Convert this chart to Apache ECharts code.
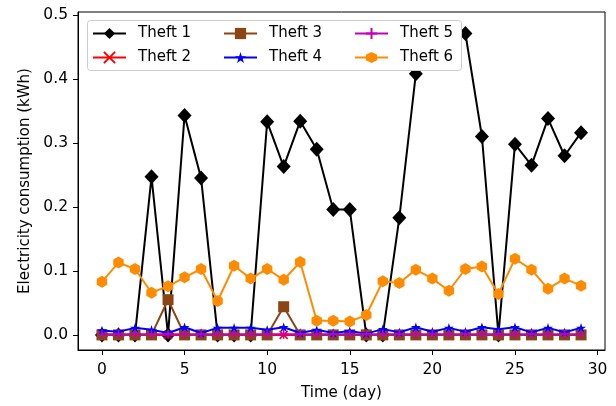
<!DOCTYPE html>
<html>
<head>
<meta charset="utf-8">
<script src="https://cdn.jsdelivr.net/npm/echarts@6/dist/echarts.min.js"></script>
<style>
html,body{margin:0;padding:0;background:#fff;}
#chart{width:616px;height:406px;}
</style>
</head>
<body>
<div id="chart"></div>
<script>
const days = [0,1,2,3,4,5,6,7,8,9,10,11,12,13,14,15,16,17,18,19,20,21,22,23,24,25,26,27,28,29];
const theft1 = [0,0,0,0.247,0,0.343,0.245,0,0,0,0.333,0.263,0.334,0.290,0.196,0.196,0,0,0.183,0.408,0.445,0.455,0.471,0.310,0,0.298,0.265,0.338,0.280,0.316];
const theft2 = [0,0,0,0,0,0,0,0,0,0,0,0,0,0,0,0,0,0,0,0,0,0,0,0,0,0,0,0,0,0];
const theft3 = [0,0,0,0,0.055,0,0,0,0,0,0,0.044,0,0,0,0,0,0,0,0,0,0,0,0,0,0,0,0,0,0];
const theft4 = [0.007,0.005,0.011,0.008,0.003,0.012,0.003,0.011,0.011,0.011,0.008,0.012,0.003,0.008,0.003,0.006,0.002,0.009,0.004,0.012,0.005,0.011,0.005,0.012,0.009,0.012,0.004,0.011,0.004,0.011];
const theft5 = [0.001,0.001,0.001,0.001,0.001,0.001,0.001,0.001,0.001,0.001,0.001,0.001,0.001,0.001,0.001,0.001,0.001,0.001,0.001,0.001,0.001,0.001,0.001,0.001,0.001,0.001,0.001,0.001,0.001,0.001];
const theft6 = [0.083,0.113,0.103,0.066,0.076,0.090,0.103,0.053,0.108,0.088,0.103,0.086,0.114,0.022,0.022,0.021,0.031,0.084,0.081,0.102,0.088,0.069,0.103,0.107,0.064,0.119,0.102,0.072,0.088,0.077];
const seriesNames = ['Theft 1','Theft 2','Theft 3','Theft 4','Theft 5','Theft 6'];
const xTicks = [0,5,10,15,20,25,30];
const yTicks = [0,0.1,0.2,0.3,0.4,0.5];

const FONT = 'DejaVu Sans';
const FS = 15;
const FST = 15.5;
const STAR = 'path://M50,0L61.2,34.5L97.6,34.5L68.2,55.9L79.4,90.5L50,69.1L20.6,90.5L31.8,55.9L2.4,34.5L38.8,34.5Z';
const HEX = 'path://M50,0L93.3,25L93.3,75L50,100L6.7,75L6.7,25Z';
const XMARK = 'path://M0,0L10,10M10,0L0,10';
const PLUS = 'path://M5,0L5,10M0,5L10,5';

function pairs(vals){ return days.map((d,i)=>[d, vals[i]]); }

const styles = [
  {data: theft1, color:'#000000', symbol:'diamond', size:[14,15]},
  {data: theft2, color:'#ff0000', symbol:XMARK, size:8, stroke:true},
  {data: theft3, color:'#8b4513', symbol:'rect', size:11},
  {data: theft4, color:'#0000ff', symbol:STAR, size:10},
  {data: theft5, color:'#bf00bf', symbol:PLUS, size:9, stroke:true},
  {data: theft6, color:'#ff8c00', symbol:HEX, size:12}
];

const series = styles.map((s,i)=>({
  name: seriesNames[i],
  type: 'line',
  data: pairs(s.data),
  symbol: s.symbol,
  symbolSize: s.size,
  symbolKeepAspect: true,
  showSymbol: true,
  showAllSymbol: true,
  z: 2 + i*0.01,
  animation: false,
  lineStyle: {color: s.color, width: 2},
  itemStyle: s.stroke ? {color: s.color, borderColor: s.color, borderWidth: 1.6} : {color: s.color, borderWidth: 0},
  emphasis: {disabled: true}
}));

function legendCol(names, left){
  return {
    data: names,
    orient: 'vertical',
    left: left,
    top: 26,
    padding: 0,
    itemWidth: 33,
    itemHeight: 14,
    itemGap: 9,
    z: 30,
    selectedMode: false,
    textStyle: {fontFamily: FONT, fontSize: FS, color: '#000', padding: [0,0,0,7]}
  };
}

const chart = echarts.init(document.getElementById('chart'), null, {renderer: 'canvas'});
chart.setOption({
  animation: false,
  backgroundColor: '#fff',
  grid: {left: 78, right: 11, top: 12, bottom: 52, show: true, borderColor: '#000', borderWidth: 1, backgroundColor: 'transparent'},
  xAxis: {
    type: 'value', min: -1.45, max: 30.45,
    name: 'Time (day)', nameLocation: 'middle', nameGap: 36,
    nameTextStyle: {fontFamily: FONT, fontSize: FS, color: '#000'},
    axisLine: {show: true, onZero: false, lineStyle: {color: '#000', width: 1}},
    axisTick: {show: true, length: 5, inside: false, customValues: xTicks, lineStyle: {color: '#000', width: 1}},
    axisLabel: {customValues: xTicks, fontFamily: FONT, fontSize: FST, color: '#000', margin: 12},
    splitLine: {show: false}
  },
  yAxis: {
    type: 'value', min: -0.0236, max: 0.5046,
    name: 'Electricity consumption (kWh)', nameLocation: 'middle', nameGap: 38, nameRotate: 90,
    nameTextStyle: {fontFamily: FONT, fontSize: FS, color: '#000'},
    axisLine: {show: true, onZero: false, lineStyle: {color: '#000', width: 1}},
    axisTick: {show: true, length: 5, inside: false, customValues: yTicks, lineStyle: {color: '#000', width: 1}},
    axisLabel: {customValues: yTicks, fontFamily: FONT, fontSize: FST, color: '#000', margin: 10,
      formatter: v => v.toFixed(1)},
    splitLine: {show: false}
  },
  legend: [
    legendCol(['Theft 1','Theft 2'], 92),
    legendCol(['Theft 3','Theft 4'], 223),
    legendCol(['Theft 5','Theft 6'], 354)
  ],
  graphic: [{
    type: 'rect', z: 25, silent: true,
    shape: {x: 87.5, y: 20.5, width: 374, height: 50, r: 3},
    style: {fill: '#ffffff', stroke: '#cccccc', lineWidth: 1}
  }],
  series: series
});
</script>
</body>
</html>
